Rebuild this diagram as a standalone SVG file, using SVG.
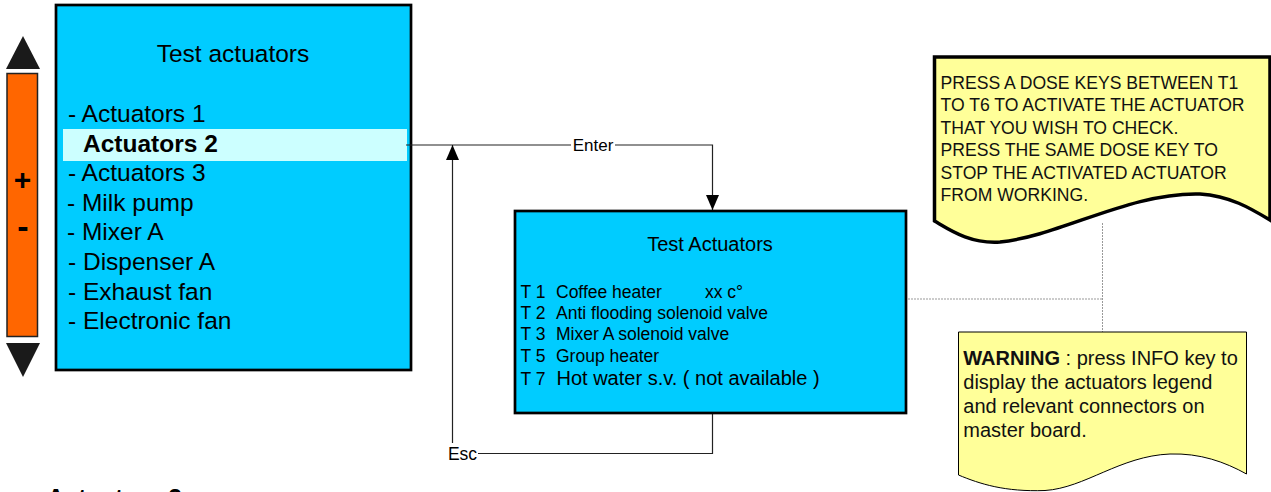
<svg xmlns="http://www.w3.org/2000/svg" width="1271" height="492" viewBox="0 0 1271 492">
<defs>
<style>
text{font-family:"Liberation Sans",Arial,sans-serif;fill:#000}
.box{fill:#00CCFF;stroke:#000;stroke-width:2.7}
.item{font-size:24.5px}
.t2{font-size:17.5px}
.note{font-size:17.6px;fill:#111}
.warn{font-size:20px;fill:#111}
.conn{fill:none;stroke:#222;stroke-width:1.2}
.dot{fill:none;stroke:#999;stroke-width:1;stroke-dasharray:2,1}
</style>
<marker id="arr" viewBox="0 0 15 13" refX="15" refY="6.5" markerWidth="15" markerHeight="13" markerUnits="userSpaceOnUse" orient="auto"><path d="M0,0 L15,6.5 L0,13 Z" fill="#000"/></marker>
</defs>
<rect width="1271" height="492" fill="#fff"/>

<g id="keys">
<path d="M23,36 L40,69 L6,69 Z" fill="#1a1a1a"/>
<rect x="7" y="73.5" width="30.5" height="263" fill="#FF6600" stroke="#222" stroke-width="1.5"/>
<text x="22.5" y="190" font-size="30" font-weight="bold" text-anchor="middle">+</text>
<text x="23" y="238" font-size="34" font-weight="bold" text-anchor="middle">-</text>
<path d="M6,343 L40,343 L23,377 Z" fill="#1a1a1a"/>
</g>

<g id="menu">
<rect class="box" x="56" y="5" width="355" height="365"/>
<text x="233" y="62" font-size="24.5" text-anchor="middle">Test actuators</text>
<rect x="63" y="129" width="344" height="32" fill="#CCFFFF"/>
<text class="item" x="68" y="121.5">- Actuators 1</text>
<text class="item" x="83" y="151.5" font-weight="bold">Actuators 2</text>
<text class="item" x="68" y="181">- Actuators 3</text>
<text class="item" x="67" y="210.5">- Milk pump</text>
<text class="item" x="67" y="240">- Mixer A</text>
<text class="item" x="68" y="270">- Dispenser A</text>
<text class="item" x="68" y="299.5">- Exhaust fan</text>
<text class="item" x="68" y="329">- Electronic fan</text>
</g>

<g id="connectors">
<path class="conn" d="M406,145 L712.5,145 L712.5,210" marker-end="url(#arr)"/>
<rect x="571" y="137" width="44" height="16" fill="#fff"/>
<text x="593" y="151" font-size="17" text-anchor="middle">Enter</text>
<path class="conn" d="M712.5,413 L712.5,453.5 L478,453.5"/>
<text x="462.5" y="460" font-size="17.5" text-anchor="middle">Esc</text>
<path class="conn" d="M452.5,443 L452.5,145" marker-end="url(#arr)"/>
<path class="dot" d="M908,299 L1102.5,299 M1102.5,223 L1102.5,332"/>
</g>

<g id="test-actuators">
<rect class="box" x="515" y="211" width="391" height="202"/>
<text x="710" y="251" font-size="20" text-anchor="middle">Test Actuators</text>
<text class="t2" x="520.5" y="298.3">T 1<tspan x="556">Coffee heater</tspan><tspan x="705">xx c°</tspan></text>
<text class="t2" x="520.5" y="318.5">T 2<tspan x="556">Anti flooding solenoid valve</tspan></text>
<text class="t2" x="520.5" y="340">T 3<tspan x="556">Mixer A solenoid valve</tspan></text>
<text class="t2" x="520.5" y="361.5">T 5<tspan x="556">Group heater</tspan></text>
<text class="t2" x="520.5" y="385">T 7<tspan x="556.5" font-size="20">Hot water s.v. ( not available )</tspan></text>
</g>

<g id="note-dose">
<path d="M934.5,57 L1270,57 L1270,220 C1250,208 1230,196 1200,194 C1130,192 1060,236 1000,242 C970,244 950,230 934.5,221 Z" fill="#FFFF99" stroke="#000" stroke-width="3.5"/>
<text class="note" x="940.5" y="88.5">PRESS A DOSE KEYS BETWEEN T1</text>
<text class="note" x="940.5" y="111">TO T6 TO ACTIVATE THE ACTUATOR</text>
<text class="note" x="940.5" y="133.5">THAT YOU WISH TO CHECK.</text>
<text class="note" x="940.5" y="156">PRESS THE SAME DOSE KEY TO</text>
<text class="note" x="940.5" y="178.5">STOP THE ACTIVATED ACTUATOR</text>
<text class="note" x="940.5" y="201">FROM WORKING.</text>
</g>

<g id="note-warning">
<path d="M958.5,332 L1246.5,332 L1246.5,474 C1225,462 1200,453 1170,454 C1120,456 1085,488 1045,490.5 C1005,492 980,484 958.5,475 Z" fill="#FFFF99" stroke="#000" stroke-width="1"/>
<text class="warn" x="963.3" y="365"><tspan font-weight="bold">WARNING</tspan> : press INFO key to</text>
<text class="warn" x="963.3" y="389">display the actuators legend</text>
<text class="warn" x="963.3" y="413">and relevant connectors on</text>
<text class="warn" x="963.3" y="437">master board.</text>
</g>

<g id="caption">
<text x="47" y="506" font-size="24.5" font-weight="bold">Actuators 2</text>
</g>
</svg>
